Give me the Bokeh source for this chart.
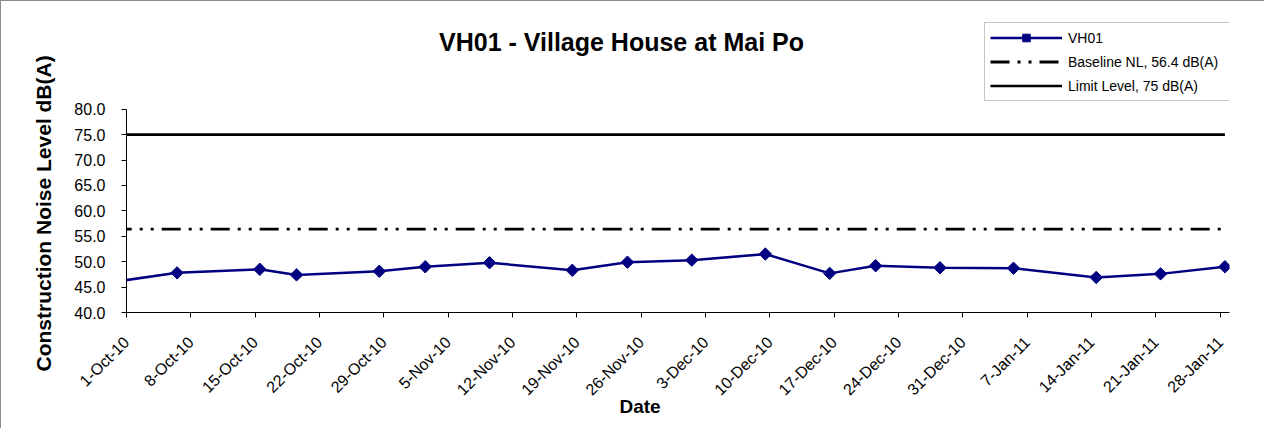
import numpy as np
import pandas as pd
from bokeh.plotting import figure
from bokeh.models import (Range1d, FixedTicker, Legend, LegendItem, Label, Title,
                          PrintfTickFormatter)
from bokeh.embed import file_html
from bokeh.resources import INLINE

# ---------------- data ----------------
title_text = "VH01 - Village House at Mai Po"
y_title = "Construction Noise Level  dB(A)"
x_title = "Date"

dates = ["2010-09-29 12:00", "2010-10-06 12:00", "2010-10-15 12:00", "2010-10-19 12:00",
         "2010-10-28 12:00", "2010-11-02 12:00", "2010-11-09 12:00", "2010-11-18 12:00",
         "2010-11-24 12:00", "2010-12-01 12:00", "2010-12-09 12:00", "2010-12-16 12:00",
         "2010-12-21 12:00", "2010-12-28 12:00", "2011-01-05 12:00", "2011-01-14 12:00",
         "2011-01-21 12:00", "2011-01-28 12:00"]
vh01 = [46.0, 47.8, 48.5, 47.4, 48.1, 49.0, 49.8, 48.3, 49.9, 50.3, 51.5, 47.7,
        49.2, 48.8, 48.7, 46.9, 47.6, 49.0]
baseline_value = 56.4
limit_value = 75.0
series_names = ["VH01", "Baseline NL, 56.4 dB(A)", "Limit Level, 75 dB(A)"]

tick_labels = ["1-Oct-10", "8-Oct-10", "15-Oct-10", "22-Oct-10", "29-Oct-10", "5-Nov-10",
               "12-Nov-10", "19-Nov-10", "26-Nov-10", "3-Dec-10", "10-Dec-10", "17-Dec-10",
               "24-Dec-10", "31-Dec-10", "7-Jan-11", "14-Jan-11", "21-Jan-11", "28-Jan-11"]
y_ticks = [40, 45, 50, 55, 60, 65, 70, 75, 80]
x_start, x_end = "2010-10-01", "2011-01-29"
y_start, y_end = 40, 80

# ---------------- layout (pixels) ----------------
W, H = 1264, 428
FL, FR, FT, FB = 125, 1228, 10, 311          # frame edges on the canvas
AXIS_TOP_PX = 107.7                            # where y=80 sits
px_per_unit = (FB - AXIS_TOP_PX) / (y_end - y_start)
y_view_top = y_start + (FB - FT) / px_per_unit

# ---------------- derived ----------------
t0 = pd.Timestamp(x_start)
day = pd.Timedelta(days=1)
x = [(pd.Timestamp(d) - t0) / day for d in dates]
tick_pos = [int((pd.to_datetime(t, format="%d-%b-%y") - t0) / day) for t in tick_labels]
x_max = (pd.Timestamp(x_end) - t0) / day

FONT = "Liberation Sans"
NAVY = "#000080"

p = figure(width=W, height=H, output_backend="svg", toolbar_location=None,
           x_range=Range1d(0, x_max), y_range=Range1d(y_start, y_view_top),
           min_border_left=FL, min_border_right=W - FR, min_border_top=FT,
           min_border_bottom=H - FB)
p.outline_line_color = None
p.xgrid.visible = False
p.ygrid.visible = False
p.background_fill_color = "white"
p.border_fill_color = "white"
p.styles = {"border-top": "1px solid #8c8c8c", "border-left": "1px solid #8c8c8c"}

r_limit = p.line(x, [limit_value] * len(x), line_color="black", line_width=2.6)
r_base = p.line(x, [baseline_value] * len(x), line_color="black", line_width=2.8,
                line_dash="19 8 3 8 3 8")
r_line = p.line(x, vh01, line_color=NAVY, line_width=2.5)
r_pts = p.scatter(x, vh01, marker="square", angle=np.pi / 4, size=8.8,
                  fill_color=NAVY, line_color=NAVY)

# axes: visible 5px ticks are drawn as minor ticks; the (invisible) major ticks
# only set the gap between the axis and its labels
xa = p.xaxis[0]
xa.ticker = FixedTicker(ticks=tick_pos, minor_ticks=tick_pos)
xa.major_label_overrides = {tp: lab for tp, lab in zip(tick_pos, tick_labels)}
xa.major_label_orientation = np.pi / 4
xa.major_label_text_font = FONT
xa.major_label_text_font_size = "16px"
xa.major_label_text_color = "black"
xa.major_label_standoff = 0
xa.major_tick_out = 27
xa.major_tick_in = 0
xa.major_tick_line_color = None
xa.minor_tick_out = 5
xa.minor_tick_in = 0
xa.minor_tick_line_color = "black"
xa.axis_line_color = "black"

ya = p.yaxis[0]
ya.bounds = (y_start, y_end)
ya.ticker = FixedTicker(ticks=y_ticks, minor_ticks=y_ticks)
ya.formatter = PrintfTickFormatter(format="%.1f")
ya.major_label_text_font = FONT
ya.major_label_text_font_size = "16px"
ya.major_label_text_color = "black"
ya.major_label_standoff = 0
ya.major_tick_out = 21
ya.major_tick_in = 0
ya.major_tick_line_color = None
ya.minor_tick_out = 5
ya.minor_tick_in = 0
ya.minor_tick_line_color = "black"
ya.axis_line_color = "black"

# axis titles as side titles (positioned with offsets)
p.add_layout(Title(text=y_title, align="left", offset=-59, standoff=34,
                   text_font=FONT, text_font_style="bold", text_font_size="21px",
                   text_color="black"), "left")
p.add_layout(Title(text=x_title, align="left", vertical_align="top", offset=493,
                   standoff=-24, text_font=FONT, text_font_style="bold",
                   text_font_size="19px", text_color="black"), "below")

# chart title inside the (extended) frame
p.add_layout(Label(x=620 - FL, y=FB - 40, x_units="screen", y_units="screen",
                   text=title_text, text_font=FONT, text_font_style="bold",
                   text_font_size="25px", text_align="center", text_baseline="middle",
                   text_color="black"))

legend = Legend(items=[LegendItem(label=series_names[0], renderers=[r_line, r_pts]),
                       LegendItem(label=series_names[1], renderers=[r_base]),
                       LegendItem(label=series_names[2], renderers=[r_limit])],
                location=(983 - FL, FB - 100), padding=5, margin=0, spacing=5,
                glyph_width=72, glyph_height=19, label_height=19, label_standoff=6,
                label_width=182, label_text_font=FONT, label_text_font_size="14px",
                label_text_color="black", border_line_color="#8c8c8c",
                border_line_width=1, background_fill_color="white",
                background_fill_alpha=1.0)
p.add_layout(legend, "center")

open("out.html", "w").write(file_html(p, INLINE))
